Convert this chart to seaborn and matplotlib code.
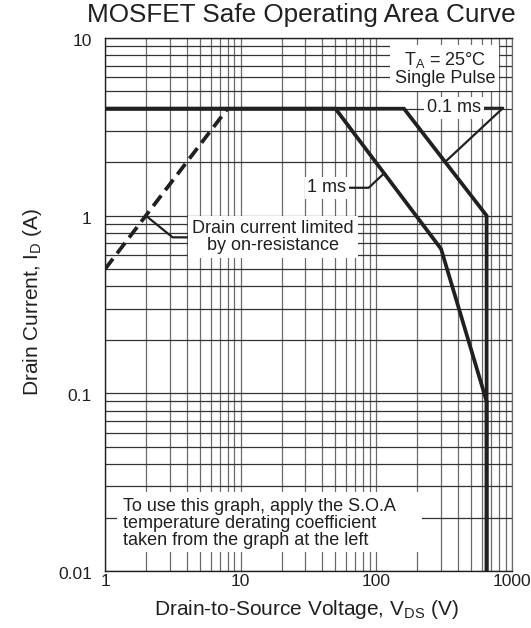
import matplotlib
matplotlib.use('Agg')
import matplotlib.pyplot as plt
import matplotlib.transforms as mtrans
import seaborn as sns
import pandas as pd
from matplotlib.ticker import LogLocator, FixedLocator, FixedFormatter, NullFormatter
from matplotlib.patches import Rectangle

sns.set_style('white')
plt.rcParams['font.family'] = ['Liberation Sans', 'DejaVu Sans']
plt.rcParams['mathtext.default'] = 'regular'

# ---- data ----
v_01ms = [1, 160, 650, 650]
i_01ms = [4, 4, 1.0, 0.01]
v_1ms = [1, 50, 300, 650, 650]
i_1ms = [4, 4, 0.65, 0.09, 0.01]
v_rds = [1, 8]
i_rds = [0.5, 4]
x_ticks = [1, 10, 100, 1000]
x_labels = ['1', '10', '100', '1000']
y_ticks = [0.01, 0.1, 1, 10]
y_labels = ['0.01', '0.1', '1', '10']

ink = '#231f20'

fig = plt.figure(figsize=(5.31, 6.28), dpi=100)
ax = fig.add_axes([105/531, 1-571/628, 407/531, 533/628])

df01 = pd.DataFrame({'V': v_01ms, 'I': i_01ms})
df1 = pd.DataFrame({'V': v_1ms, 'I': i_1ms})
dfr = pd.DataFrame({'V': v_rds, 'I': i_rds})

sns.lineplot(data=df01, x='V', y='I', sort=False, estimator=None, color=ink,
             lw=2.7, ax=ax, zorder=4, solid_joinstyle='miter')
sns.lineplot(data=df1, x='V', y='I', sort=False, estimator=None, color=ink,
             lw=2.7, ax=ax, zorder=4, solid_joinstyle='miter')
sns.lineplot(data=dfr, x='V', y='I', sort=False, estimator=None, color=ink,
             lw=2.7, ax=ax, zorder=4, dashes=False)
ax.lines[-1].set_dashes((3.5, 1.8))
ax.lines[-1].set_dash_capstyle('butt')

ax.set_xscale('log')
ax.set_yscale('log')
ax.set_xlim(1, 1000)
ax.set_ylim(0.01, 10)

ax.xaxis.set_major_locator(FixedLocator(x_ticks))
ax.xaxis.set_major_formatter(FixedFormatter(x_labels))
ax.yaxis.set_major_locator(FixedLocator(y_ticks))
ax.yaxis.set_major_formatter(FixedFormatter(y_labels))
ax.xaxis.set_minor_locator(LogLocator(base=10, subs=range(2, 10)))
ax.yaxis.set_minor_locator(LogLocator(base=10, subs=range(2, 10)))
ax.xaxis.set_minor_formatter(NullFormatter())
ax.yaxis.set_minor_formatter(NullFormatter())

ax.set_axisbelow(True)
ax.grid(which='both', axis='x', color='#6a6a6a', lw=0.9)
ax.grid(which='both', axis='y', color='#333333', lw=0.9)
ax.tick_params(which='both', length=0, labelsize=12.5, colors=ink)
ax.tick_params(axis='x', pad=2)
ax.tick_params(axis='y', pad=9.5)

# nudge y tick labels slightly downward, as in the reference
offset = mtrans.ScaledTranslation(0, -2/100, fig.dpi_scale_trans)
for lab in ax.get_yticklabels():
    lab.set_transform(lab.get_transform() + offset)

for s in ['left', 'bottom', 'top']:
    ax.spines[s].set_color(ink)
    ax.spines[s].set_linewidth(1.0)
ax.spines['right'].set_color('#6a6a6a')
ax.spines['right'].set_linewidth(0.9)

ax.set_xlabel('Drain-to-Source Voltage, V$_{DS}$ (V)', fontsize=15, color=ink)
ax.xaxis.set_label_coords(0.496, -0.073)
ax.xaxis.label.set_verticalalignment('center')
ax.set_ylabel('Drain Current, I$_{D}$ (A)', fontsize=15, color=ink)
ax.yaxis.set_label_coords(-0.177, 0.505)
ax.yaxis.label.set_verticalalignment('center')

fig.text(301/531, 1-15/628, 'MOSFET Safe Operating Area Curve', ha='center',
         va='center', fontsize=18.8, color=ink)

box = dict(fc='white', ec='none', pad=2)
ax.text(0.835, 0.943, 'T$_A$ = 25°C\nSingle Pulse', transform=ax.transAxes,
        ha='center', va='center', fontsize=13, color=ink, linespacing=1.0,
        bbox=dict(fc='white', ec='none', pad=3), zorder=5)

lead = dict(arrowstyle='-', color=ink, lw=1.6, shrinkA=0, shrinkB=0)
ax.annotate('0.1 ms', xy=(320, 2.0), xycoords='data', xytext=(0.857, 0.869),
            textcoords='axes fraction', ha='center', va='center', fontsize=13,
            color=ink, bbox=box, zorder=5,
            arrowprops=dict(lead, connectionstyle='angle,angleA=0,angleB=43,rad=0'))
ax.annotate('1 ms', xy=(115, 1.74), xycoords='data', xytext=(0.545, 0.719),
            textcoords='axes fraction', ha='center', va='center', fontsize=13,
            color=ink, bbox=box, zorder=5,
            arrowprops=dict(lead, connectionstyle='angle,angleA=0,angleB=43,rad=0'))
ax.annotate('Drain current limited\nby on-resistance', xy=(2, 1.0), xycoords='data',
            xytext=(0.413, 0.626), textcoords='axes fraction', ha='center',
            va='center', fontsize=13, color=ink, linespacing=1.0,
            bbox=dict(fc='white', ec='none', pad=3), zorder=5,
            arrowprops=dict(lead, connectionstyle='angle,angleA=0,angleB=-39,rad=0'))

ax.add_patch(Rectangle((0.0295, 0.0356), 0.75, 0.112, transform=ax.transAxes,
                       fc='white', ec='none', zorder=2.5))
ax.text(0.044, 0.090, 'To use this graph, apply the S.O.A\ntemperature derating coefficient\ntaken from the graph at the left',
        transform=ax.transAxes, ha='left', va='center', fontsize=13, color=ink,
        linespacing=1.0, zorder=5)

fig.savefig('out.png', dpi=100)
